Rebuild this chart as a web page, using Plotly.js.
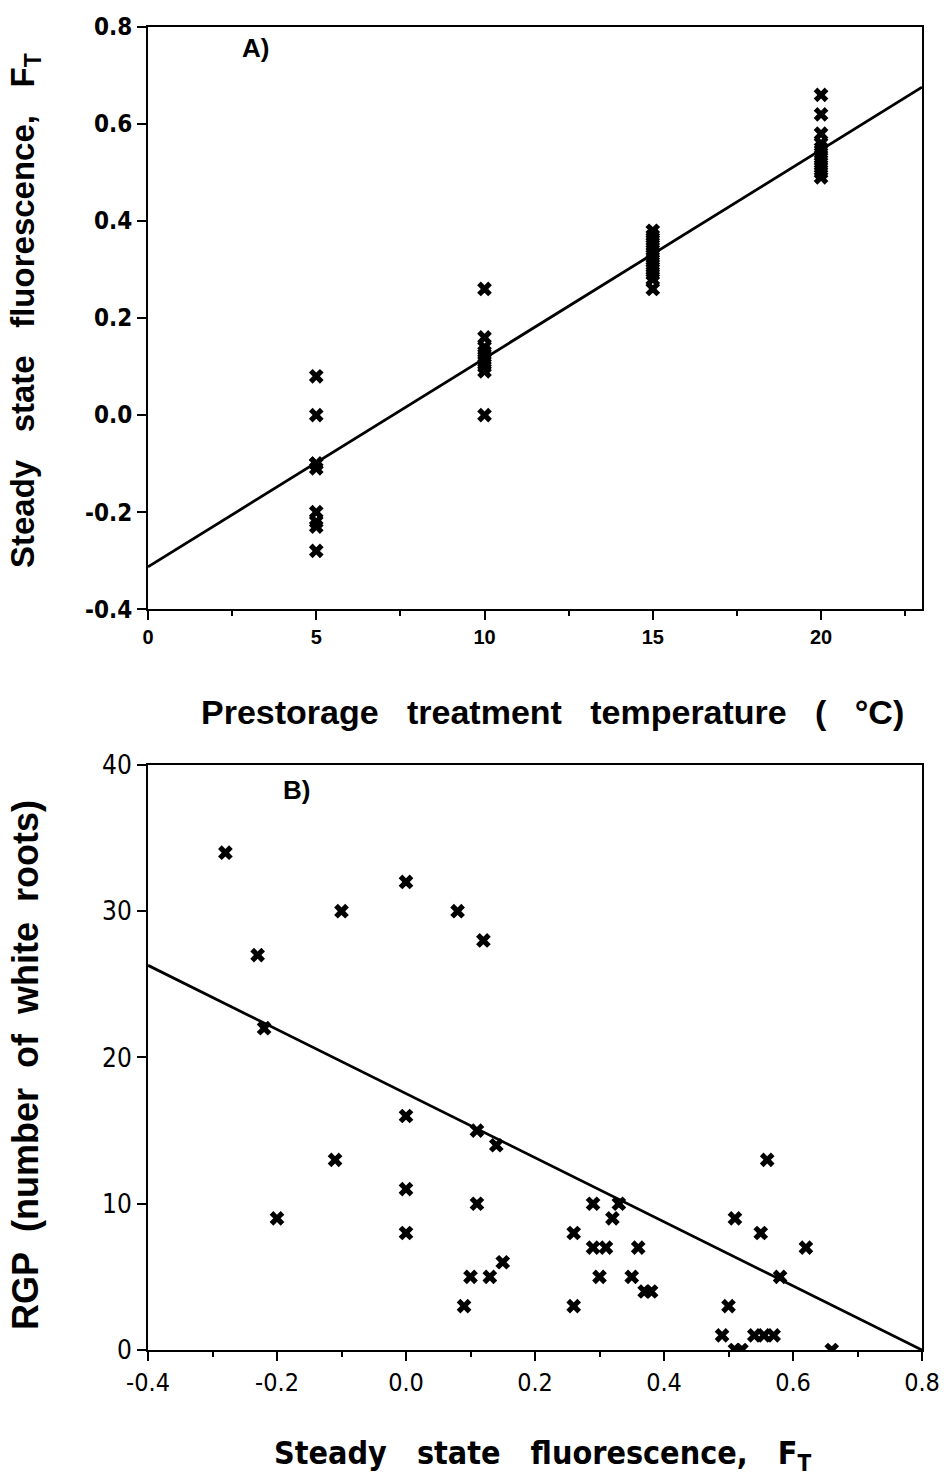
<!DOCTYPE html>
<html>
<head>
<meta charset="utf-8">
<script src="https://cdn.plot.ly/plotly-3.0.1.min.js"></script>
<style>html,body{margin:0;padding:0;background:#fff;}#chart{width:946px;height:1481px;}</style>
</head>
<body>
<div id="chart"></div>
<script>
// Panel A: prestorage temperature (°C) vs steady state fluorescence F_T
var tempA = [5,5,5,5,5,5,5,5,5,
             10,10,10,10,10,10,10,10,10,
             15,15,15,15,15,15,15,15,15,15,15,15,
             20,20,20,20,20,20,20,20,20,20,20];
var ftA = [0.08,0.00,-0.10,-0.10,-0.11,-0.20,-0.22,-0.23,-0.28,
           0.26,0.16,0.14,0.13,0.12,0.11,0.10,0.09,0.00,
           0.38,0.37,0.36,0.35,0.34,0.33,0.32,0.31,0.30,0.29,0.28,0.26,
           0.66,0.62,0.58,0.56,0.55,0.54,0.53,0.52,0.51,0.50,0.49];
var fitA_x = [0, 23];
var fitA_y = [-0.313, 0.676];

// Panel B: steady state fluorescence F_T vs RGP
var ftB = [-0.28,-0.23,-0.22,-0.10,0.00,0.08,0.12,
           0.00,0.11,0.14,-0.11,0.00,0.11,-0.20,0.00,0.15,0.10,0.13,0.09,
           0.56,0.29,0.33,0.32,0.51,0.26,0.55,0.29,0.31,0.36,0.62,
           0.30,0.35,0.58,0.37,0.38,0.26,0.50,0.49,0.51,0.52,0.54,0.555,0.57,0.66];
var rgpB = [34,27,22,30,32,30,28,
            16,15,14,13,11,10,9,8,6,5,5,3,
            13,10,10,9,9,8,8,7,7,7,7,
            5,5,5,4,4,3,3,1,0,0,1,1,1,0];
var fitB_x = [-0.4, 0.8];
var fitB_y = [26.3, 0.0];

var ticksA_y = [-0.4,-0.2,0.0,0.2,0.4,0.6,0.8];
var ticksA_x = [0,5,10,15,20];
var ticksB_x = [-0.4,-0.2,0.0,0.2,0.4,0.6,0.8];
var ticksB_y = [0,10,20,30,40];

var narrow = '"DejaVu Sans Condensed", "Liberation Sans Narrow", "Liberation Sans", Arial, sans-serif';
var bold = '"Liberation Sans", Arial, sans-serif';
var mk = {symbol:'x', size:13, color:'#000', line:{width:0}};

var traces = [
  {x:tempA, y:ftA, mode:'markers', type:'scatter', marker:mk, xaxis:'x', yaxis:'y', hoverinfo:'skip'},
  {x:fitA_x, y:fitA_y, mode:'lines', type:'scatter', line:{color:'#000', width:2.8}, xaxis:'x', yaxis:'y', hoverinfo:'skip'},
  {x:ftB, y:rgpB, mode:'markers', type:'scatter', marker:mk, xaxis:'x2', yaxis:'y2', hoverinfo:'skip'},
  {x:fitB_x, y:fitB_y, mode:'lines', type:'scatter', line:{color:'#000', width:2.8}, xaxis:'x2', yaxis:'y2', hoverinfo:'skip'}
];

var axBase = {showgrid:false, zeroline:false, showline:true, linecolor:'#000', linewidth:2,
  mirror:true, ticks:'outside', tickcolor:'#000', tickwidth:2, ticklen:9};

var sp = '\u00A0';
function gap(n){ return new Array(n+1).join(sp); }
var layout = {
  width:946, height:1481,
  margin:{l:148, r:24, t:27, b:131},
  paper_bgcolor:'#fff', plot_bgcolor:'#fff',
  showlegend:false,
  xaxis: Object.assign({}, axBase, {domain:[0,1], anchor:'y', range:[0,23], tickvals:ticksA_x,
    ticktext:ticksA_x.map(String), tickfont:{family:bold, size:20, color:'#000', weight:'bold'},
    minor:{dtick:2.5, tick0:0, ticks:'outside', ticklen:5, tickwidth:2, tickcolor:'#000'}}),
  yaxis: Object.assign({}, axBase, {domain:[0.560,1], anchor:'x', range:[-0.4,0.8], tickvals:ticksA_y,
    ticktext:ticksA_y.map(function(v){return v.toFixed(1);}), tickfont:{family:narrow, size:24, color:'#000', weight:'bold'}}),
  xaxis2: Object.assign({}, axBase, {domain:[0,1], anchor:'y2', range:[-0.4,0.8], tickvals:ticksB_x,
    ticktext:ticksB_x.map(function(v){return v.toFixed(1);}), tickfont:{family:narrow, size:25, color:'#000'},
    minor:{dtick:0.1, tick0:-0.4, ticks:'outside', ticklen:5, tickwidth:2, tickcolor:'#000'}}),
  yaxis2: Object.assign({}, axBase, {domain:[0,0.4422], anchor:'x2', range:[0,40], tickvals:ticksB_y,
    ticktext:ticksB_y.map(String), tickfont:{family:narrow, size:26, color:'#000'}}),
  annotations:[
    {text:'Prestorage'+gap(3)+'treatment'+gap(3)+'temperature'+gap(3)+'('+gap(3)+'°C)', xref:'paper', yref:'paper', x:0.523, y:0.482,
      showarrow:false, xanchor:'center', yanchor:'middle', font:{family:bold, size:34, color:'#000', weight:'bold'}},
    {text:'Steady'+gap(3)+'state'+gap(3)+'fluorescence,'+gap(3)+'F<sub>T</sub>', xref:'paper', yref:'paper', x:-0.159, y:0.786,
      textangle:-90, showarrow:false, xanchor:'center', yanchor:'middle', font:{family:bold, size:33, color:'#000', weight:'bold'}},
    {text:'RGP'+gap(2)+'(number'+gap(2)+'of'+gap(2)+'white'+gap(2)+'roots)', xref:'paper', yref:'paper', x:-0.159, y:0.2154,
      textangle:-90, showarrow:false, xanchor:'center', yanchor:'middle', font:{family:bold, size:36, color:'#000', weight:'bold'}},
    {text:'Steady'+gap(3)+'state'+gap(3)+'fluorescence,'+gap(3)+'F<sub>T</sub>', xref:'paper', yref:'paper', x:0.510, y:-0.0794,
      showarrow:false, xanchor:'center', yanchor:'middle', font:{family:narrow, size:32, color:'#000', weight:'bold'}},
    {text:'A)', xref:'x', yref:'y', x:3.2, y:0.757, showarrow:false, xanchor:'center', yanchor:'middle',
      font:{family:bold, size:26, color:'#000', weight:'bold'}},
    {text:'B)', xref:'x2', yref:'y2', x:-0.17, y:38.3, showarrow:false, xanchor:'center', yanchor:'middle',
      font:{family:bold, size:26, color:'#000', weight:'bold'}}
  ]
};

Plotly.newPlot('chart', traces, layout, {staticPlot:true, displayModeBar:false});
</script>
</body>
</html>
